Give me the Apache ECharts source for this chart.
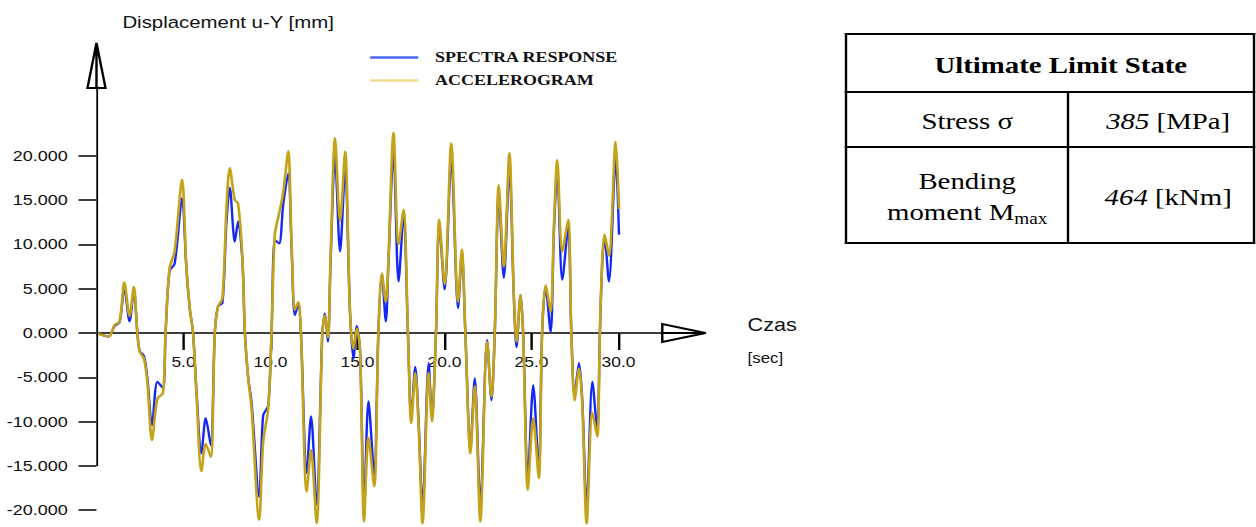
<!DOCTYPE html>
<html>
<head>
<meta charset="utf-8">
<script src="https://cdn.jsdelivr.net/npm/echarts@6/dist/echarts.min.js"></script>
<style>
  html, body { margin: 0; padding: 0; background: #fff; overflow: hidden; }
  #wrap { position: absolute; left: 0; top: 0; width: 1046.67px; height: 527px;
          transform: scaleX(1.2); transform-origin: 0 0; }
  #chart { position: absolute; left: 0; top: 0; width: 1046.67px; height: 527px; }
  .line { position: absolute; background: #000; }
  .cell { position: absolute; display: flex; align-items: center; justify-content: center;
          box-sizing: border-box; font-family: 'Liberation Serif', 'Times New Roman', serif;
          font-size: 24px; color: #000; text-align: center; line-height: 31px; padding-top: 4px; }
  .cell sub { font-size: 16px; vertical-align: -4px; line-height: 0; }
</style>
</head>
<body>
<div id="wrap">
  <div id="chart"></div>
  <div class="line" style="left:704px;top:33px;width:342px;height:2px"></div>
  <div class="line" style="left:704px;top:242px;width:342px;height:2px"></div>
  <div class="line" style="left:704px;top:33px;width:2px;height:211px"></div>
  <div class="line" style="left:1044px;top:33px;width:2px;height:211px"></div>
  <div class="line" style="left:704px;top:91px;width:342px;height:2px"></div>
  <div class="line" style="left:704px;top:146px;width:342px;height:2px"></div>
  <div class="line" style="left:889px;top:92px;width:2px;height:151px"></div>
  <div class="cell" style="left:706px;top:35px;width:338px;height:56px;padding-left:18px;font-weight:bold">Ultimate Limit State</div>
  <div class="cell" style="left:706px;top:93px;width:183px;height:53px;padding-left:17px">Stress σ</div>
  <div class="cell" style="left:891px;top:93px;width:153px;height:53px;padding-left:12px"><span><i>385</i> [MPa]</span></div>
  <div class="cell" style="left:706px;top:148px;width:183px;height:94px;padding-left:17px"><span>Bending<br>moment M<sub>max</sub></span></div>
  <div class="cell" style="left:891px;top:148px;width:153px;height:94px;padding-left:12px"><span><i>464</i> [kNm]</span></div>
</div>
<script>
const times = [0, 0.7, 1.04, 1.33, 1.6, 1.9, 2.15, 2.34, 2.48, 2.73,
  2.92, 3.19, 3.5, 3.82, 3.97, 4.2, 4.49, 4.92, 5.16, 5.36,
  5.55, 5.74, 6.03, 6.28, 6.57, 6.8, 6.99, 7.24, 7.47, 7.66,
  7.95, 8.14, 8.39, 8.53, 8.72, 8.91, 9.35, 9.58, 9.87, 10.06,
  10.25, 10.5, 10.73, 11.02, 11.21, 11.4, 11.6, 11.75, 12.08, 12.33,
  12.65, 12.98, 13.13, 13.3, 13.45, 13.71, 14.0, 14.29, 14.57, 14.77,
  14.96, 15.15, 15.38, 15.63, 15.96, 16.2, 16.4, 16.63, 16.78, 17.07,
  17.36, 17.65, 17.9, 18.09, 18.32, 18.51, 18.74, 19.09, 19.28, 19.51,
  19.7, 20.01, 20.39, 20.78, 21.0, 21.2, 21.49, 21.74, 22.06, 22.45,
  22.7, 22.89, 23.12, 23.41, 23.73, 23.98, 24.14, 24.37, 24.52, 24.79,
  25.1, 25.42, 25.61, 25.81, 26.1, 26.29, 26.48, 26.77, 27.11, 27.29,
  27.48, 27.73, 27.92, 28.17, 28.5, 28.78, 28.93, 29.07, 29.2, 29.45,
  29.84, 30.03];

const spectraResponse = [0, -0.4, 0.8, 1.2, 5.1, 1.3, 4.8, 0.3, -2.0, -2.6,
  -5.0, -10.4, -5.5, -6.2, 0, 7.0, 7.8, 15.2, 7.5, 2.8,
  0, -6.3, -13.6, -9.6, -12.7, 0, 3.0, 3.4, 12.5, 16.4,
  10.3, 12.6, 8.0, 0, -5.1, -7.8, -18.5, -9.3, -8.2, 0,
  10.5, 10.1, 14.5, 18.0, 9.8, 2.0, 3.3, 0, -15.8, -9.4,
  -19.4, 0, 2.2, -1.0, 7.8, 19.9, 9.2, 18.6, 2.4, -2.9,
  0.8, -2.1, -19.9, -7.7, -16.0, 0, 6.7, 1.3, 8.0, 20.5,
  5.8, 13.2, 0, -9.5, -3.8, -9.8, -19.7, -3.4, -9.6, 0,
  12.3, 4.9, 19.7, 2.8, 9.0, 0, -13.0, -5.1, -19.5, -0.8,
  -7.6, 0, 15.8, 6.2, 18.6, 4.4, -1.6, 4.3, 0, -16.4,
  -5.9, -15.6, 0, 5.2, 0.1, 11.5, 18.2, 6.0, 12.0, 0,
  -7.0, -3.4, -7.6, -19.8, -5.5, -11.0, 0, 8.0, 10.8, 5.8,
  19.7, 11.1];

const accelerogram = [0, -0.4, 0.9, 1.3, 5.7, 1.9, 5.2, 0.2, -2.1, -2.9,
  -5.5, -12.1, -7.4, -6.8, 0, 7.3, 9.2, 17.3, 7.7, 2.8,
  0, -6.6, -15.6, -12.5, -14.0, 0, 3.0, 3.9, 14.1, 18.6,
  15.0, 14.6, 8.4, 0, -5.1, -8.5, -21.1, -12.3, -8.5, 0,
  11.1, 13.5, 15.8, 20.5, 10.3, 2.6, 3.5, 0, -17.9, -13.2,
  -21.5, 0, 2.0, -0.5, 8.4, 22.0, 12.6, 20.5, 2.4, -1.8,
  0.5, -2.1, -21.3, -11.8, -17.3, 0, 6.7, 3.5, 8.4, 22.6,
  10.0, 13.9, 0, -10.2, -4.5, -10.4, -21.5, -4.5, -10.0, 0,
  12.8, 5.5, 21.4, 3.5, 9.4, 0, -13.6, -6.0, -21.3, -1.0,
  -7.2, 0, 16.7, 7.5, 20.3, 4.7, -1.0, 4.3, 0, -17.7,
  -9.6, -16.4, 0, 5.4, 2.4, 12.2, 19.5, 9.2, 12.8, 0,
  -7.6, -4.0, -8.1, -21.5, -9.0, -11.7, 0, 8.4, 11.1, 8.7,
  21.6, 14.0];

const xTickValues = [5, 10, 15, 20, 25, 30];
const yTickValues = [-20, -15, -10, -5, 0, 5, 10, 15, 20];
const seriesNames = ['SPECTRA RESPONSE', 'ACCELEROGRAM'];

const pairs = vals => times.map((t, i) => [t, vals[i]]);
const sans = "'Liberation Sans', Arial, sans-serif";
const legendBar = 'path://M0 0 L40 0 L40 2.6 L0 2.6 Z';

const gridTop = 65.4, gridHeight = 462.5, yMin = -22, yMax = 30.2;
const zeroOffset = -(gridHeight * (0 - yMin) / (yMax - yMin));

const chart = echarts.init(document.getElementById('chart'), null, { renderer: 'svg' });
chart.setOption({
  animation: false,
  title: [
    { text: 'Displacement u-Y [mm]', left: 102, top: 14, padding: 0,
      textStyle: { fontFamily: sans, fontSize: 17, fontWeight: 'normal', color: '#111' } },
    { text: 'Czas', left: 623, top: 316, padding: 0,
      textStyle: { fontFamily: sans, fontSize: 18, fontWeight: 'normal', color: '#111' } },
    { text: '[sec]', left: 623, top: 351, padding: 0,
      textStyle: { fontFamily: sans, fontSize: 14, fontWeight: 'normal', color: '#111' } }
  ],
  legend: {
    orient: 'vertical', left: 303.5, top: 45, itemWidth: 40, itemHeight: 14, itemGap: 8,
    symbolKeepAspect: true,
    data: [
      { name: seriesNames[0], icon: legendBar, itemStyle: { color: '#4a68f0' } },
      { name: seriesNames[1], icon: legendBar, itemStyle: { color: '#f0dc90' } }
    ],
    textStyle: { fontFamily: "'Liberation Serif', 'Times New Roman', serif", fontWeight: 'bold',
      fontSize: 15, color: '#111', padding: [0, 0, 0, 9] }
  },
  grid: { left: 80.4, top: gridTop, width: 507.5, height: gridHeight, containLabel: false, outerBoundsMode: 'none' },
  xAxis: {
    type: 'value', min: 0, max: 35, interval: 5, offset: zeroOffset,
    axisLine: { onZero: false, lineStyle: { color: '#000', width: 1.5 },
      symbol: ['none', 'emptyPath://M5 0 L10 20 L0 20 Z M5 0 L5 20'],
      symbolSize: [18, 36], symbolOffset: [0, -18] },
    axisTick: { show: true, customValues: xTickValues, length: 17, lineStyle: { color: '#000', width: 2 } },
    axisLabel: { customValues: xTickValues, formatter: v => v.toFixed(1), margin: 22,
      fontFamily: sans, fontSize: 14.5, color: '#111' },
    splitLine: { show: false }
  },
  yAxis: {
    type: 'value', min: yMin, max: yMax,
    axisLine: { show: false },
    axisTick: { show: true, customValues: yTickValues, length: 15, lineStyle: { color: '#000', width: 1.5 } },
    axisLabel: { customValues: yTickValues, formatter: v => v.toFixed(3), margin: 24,
      fontFamily: sans, fontSize: 15, color: '#111' },
    splitLine: { show: false }
  },
  series: [
    { name: seriesNames[0], type: 'line', data: pairs(spectraResponse), showSymbol: false, symbol: 'none',
      smooth: 0.3, lineStyle: { color: '#1428f5', width: 2 }, itemStyle: { color: '#1428f5' }, z: 2,
      markLine: {
        silent: true, animation: false,
        symbol: ['none', 'emptyPath://M5 0 L10 30 L0 30 Z M5 0 L5 30'], symbolSize: [15, 45],
        lineStyle: { color: '#000', width: 1.5, type: 'solid' },
        label: { show: false }, emphasis: { disabled: true },
        data: [[{ coord: [0, -15] }, { coord: [0, yMax] }]]
      } },
    { name: seriesNames[1], type: 'line', data: pairs(accelerogram), showSymbol: false, symbol: 'none',
      smooth: 0.3, lineStyle: { color: '#c4a318', width: 2.2 }, itemStyle: { color: '#c4a318' }, z: 3 }
  ]
});
</script>
</body>
</html>
